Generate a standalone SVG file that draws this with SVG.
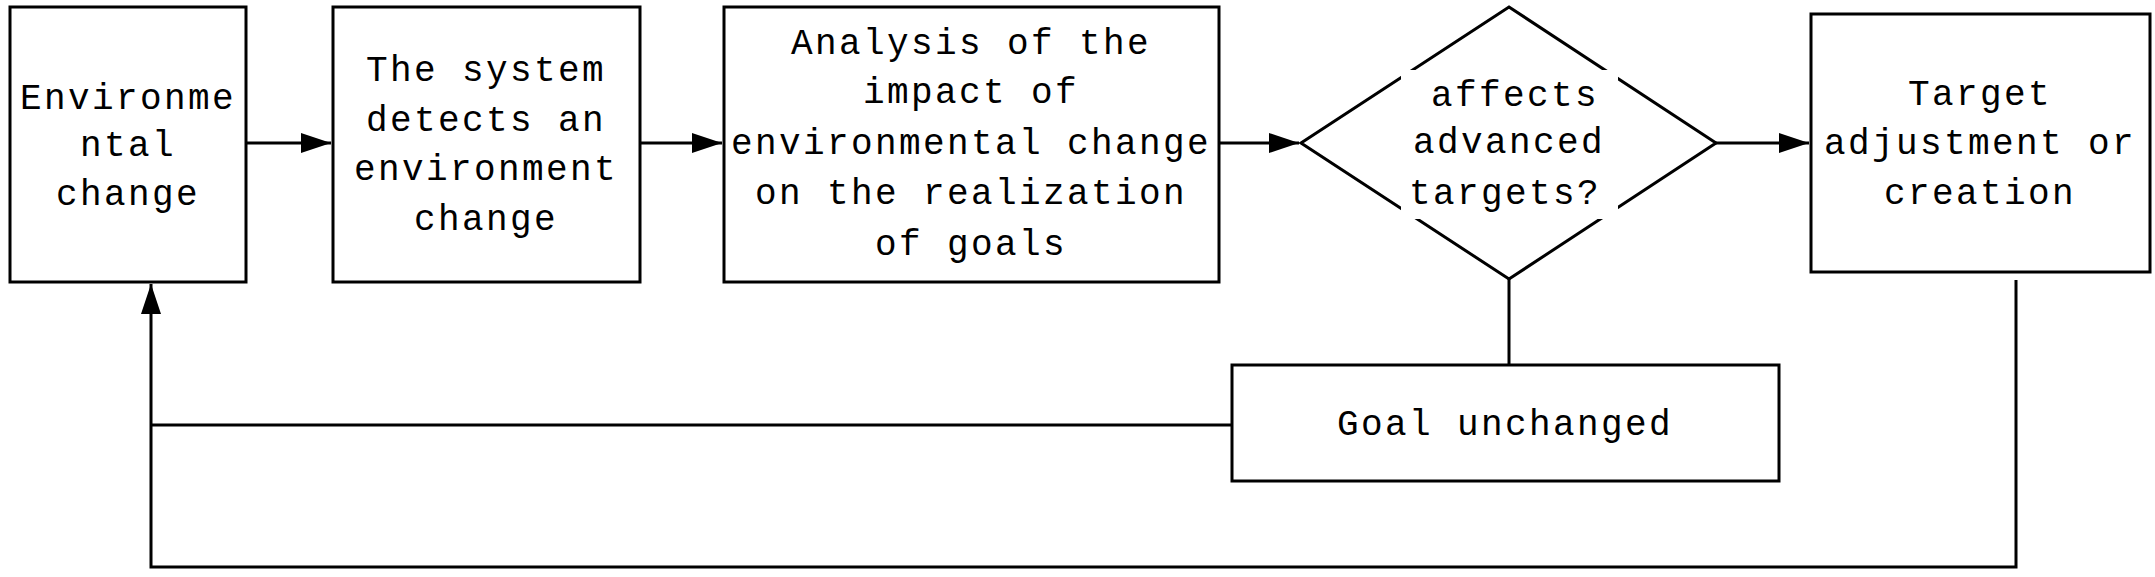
<svg xmlns="http://www.w3.org/2000/svg" width="2155" height="577" viewBox="0 0 2155 577">
<style>
.n{fill:#fff;stroke:#000;stroke-width:3}
.c{fill:none;stroke:#000;stroke-width:3}
text{font-family:"Liberation Mono",monospace;font-size:36px;letter-spacing:2.4px;text-anchor:middle;dominant-baseline:central;fill:#000}
</style>
<defs><marker id="a" markerWidth="10" markerHeight="8" refX="10" refY="4" orient="auto" markerUnits="userSpaceOnUse" viewBox="0 0 10 8"><path d="M0,0L10,4L0,8z" fill="#000"/></marker>
<marker id="ah" viewBox="0 0 30 20" refX="30" refY="10" markerWidth="30" markerHeight="20" orient="auto" markerUnits="userSpaceOnUse"><path d="M0,0L30,10L0,20z" fill="#000"/></marker></defs>
<rect width="2155" height="577" fill="#fff"/>
<g id="connectors">
<path class="c" d="M246,143H331" marker-end="url(#ah)"/>
<path class="c" d="M640,143H722" marker-end="url(#ah)"/>
<path class="c" d="M1219,143H1299" marker-end="url(#ah)"/>
<path class="c" d="M1716,143H1809" marker-end="url(#ah)"/>
<path class="c" d="M1509,279V365"/>
<path class="c" d="M1232,425H151"/>
<path class="c" d="M2016,280V567H151V284" marker-end="url(#ah)"/>
</g>
<g id="n1"><rect class="n" x="10" y="7" width="236" height="275"/>
<text x="128" y="99">Environme</text><text x="128" y="146">ntal</text><text x="128" y="195">change</text></g>
<g id="n2"><rect class="n" x="333" y="7" width="307" height="275"/>
<text x="486" y="71">The system</text><text x="486" y="121">detects an</text><text x="486" y="170">environment</text><text x="486" y="220">change</text></g>
<g id="n3"><rect class="n" x="724" y="7" width="495" height="275"/>
<text x="971" y="44">Analysis of the</text><text x="971" y="93">impact of</text><text x="971" y="144">environmental change</text><text x="971" y="194">on the realization</text><text x="971" y="245">of goals</text></g>
<g id="n4"><path class="n" d="M1509,7L1716,143L1509,279L1301,143Z"/>
<rect x="1401" y="70" width="217" height="149" fill="#fff"/>
<text x="1515" y="96">affects</text><text x="1509" y="143">advanced</text><text x="1505" y="194">targets?</text></g>
<g id="n5"><rect class="n" x="1811" y="14" width="339" height="258"/>
<text x="1980" y="95">Target</text><text x="1980" y="144">adjustment or</text><text x="1980" y="194">creation</text></g>
<g id="n6"><rect class="n" x="1232" y="365" width="547" height="116"/>
<text x="1505" y="425">Goal unchanged</text></g>
</svg>
